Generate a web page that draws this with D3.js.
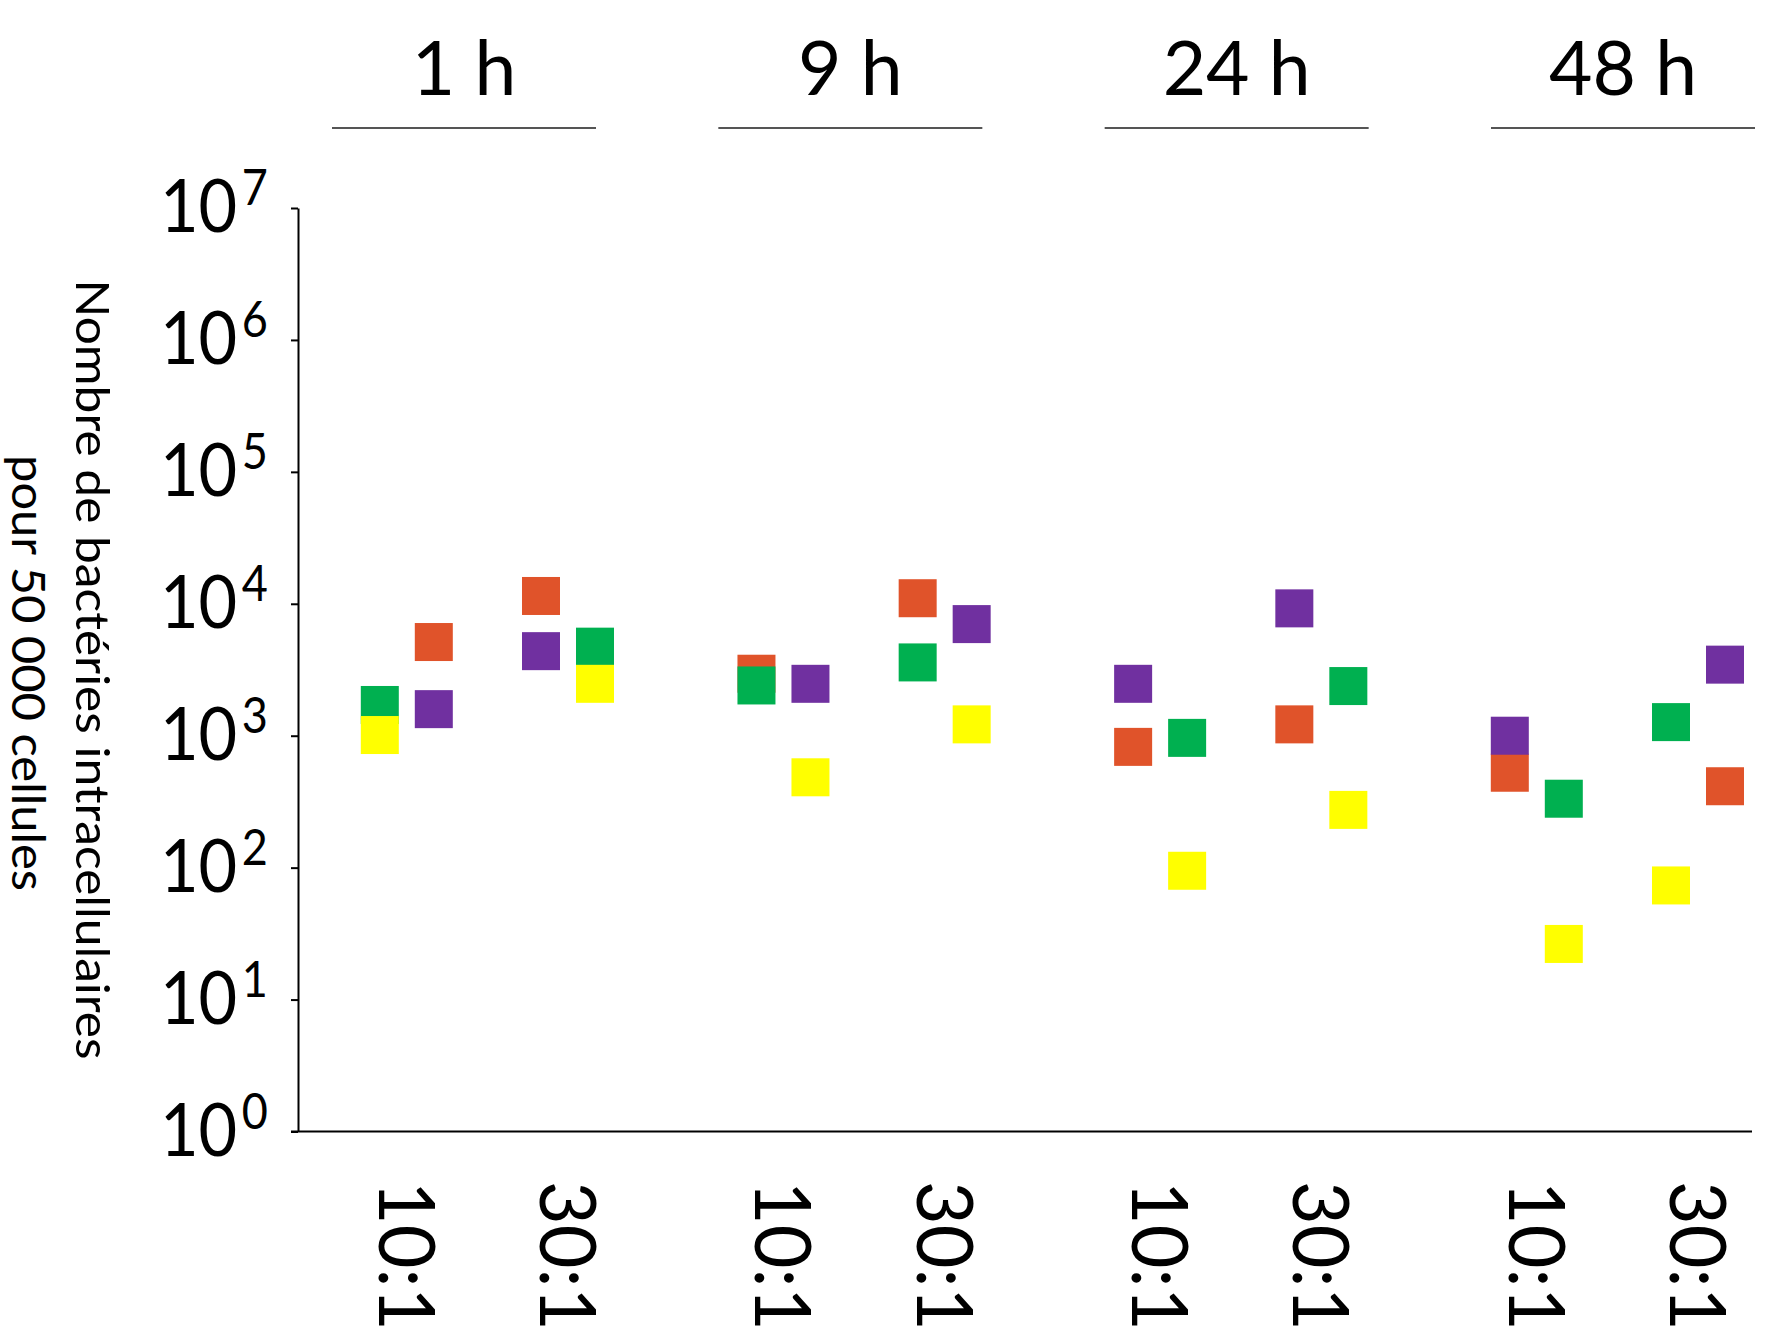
<!DOCTYPE html>
<html>
<head>
<meta charset="utf-8">
<script src="https://cdn.jsdelivr.net/npm/d3@7"></script>
<style>
  html, body { margin: 0; padding: 0; background: #ffffff; }
  svg { display: block; }
  text { font-family: Lato, "Open Sans", sans-serif; fill: #000; }
</style>
</head>
<body>
<svg id="chart" width="1767" height="1335"></svg>
<script>
// ---------------- DATA ----------------
const times = ["1 h", "9 h", "24 h", "48 h"];
const ratios = ["10:1", "30:1"];
// condition order: 1h-10:1, 1h-30:1, 9h-10:1, 9h-30:1, 24h-10:1, 24h-30:1, 48h-10:1, 48h-30:1
const orangeValues = [5130, 11460, 2950, 11020, 823, 1219, 524, 414];
const purpleValues = [1590, 4375, 2474, 7015, 2474, 9233, 1000, 3457];
const greenValues  = [1710, 4732, 2404, 3594, 963, 2379, 333, 1268];
const yellowValues = [1012, 2474, 484, 1219, 94.7, 274, 26.4, 73.3];
// sub-column (a = left, b = right) within each condition
const orangeColumn = ["b", "a", "a", "a", "a", "a", "a", "b"];
const purpleColumn = ["b", "a", "b", "b", "a", "a", "a", "b"];
const greenColumn  = ["a", "b", "a", "a", "b", "b", "b", "a"];
const yellowColumn = ["a", "b", "b", "b", "b", "b", "b", "a"];
const yTickValues = [1, 10, 100, 1000, 10000, 100000, 1000000, 10000000];
const yTickExponents = ["0", "1", "2", "3", "4", "5", "6", "7"];
const yTitleLines = ["Nombre de bactéries intracellulaires", "pour 50 000 cellules"];

// ---------------- BUILD ----------------
const conditions = [];
times.forEach(t => ratios.forEach(r => conditions.push({ time: t, ratio: r })));

const seriesList = [
  { name: "orange", color: "#E0532A", values: orangeValues, column: orangeColumn },
  { name: "purple", color: "#7030A0", values: purpleValues, column: purpleColumn },
  { name: "green",  color: "#00B050", values: greenValues,  column: greenColumn },
  { name: "yellow", color: "#FFFF00", values: yellowValues, column: yellowColumn }
];

const svg = d3.select("#chart");
svg.append("rect").attr("width", 1767).attr("height", 1335).attr("fill", "#fff");

const axisX = 298;
const y = d3.scaleLog().domain([1, 1e7]).range([1131.5, 208]);
const xTime = d3.scalePoint().domain(times).range([487.4, 1617.4]);
const xRatio = d3.scalePoint().domain(ratios).range([-80.6, 80.6]);
const xCol = d3.scalePoint().domain(["a", "b"]).range([-27, 27]);
const xHeader = d3.scalePoint().domain(times).range([464, 1623]);
const sq = 38;

// header groups
const hdr = svg.append("g");
times.forEach(t => {
  hdr.append("text")
    .attr("x", xHeader(t)).attr("y", 95)
    .attr("text-anchor", "middle")
    .attr("font-size", 75)
    .text(t);
  hdr.append("line")
    .attr("x1", xHeader(t) - 132).attr("x2", xHeader(t) + 132)
    .attr("y1", 128).attr("y2", 128)
    .attr("stroke", "#555").attr("stroke-width", 2);
});

// y axis
const yAxis = d3.axisLeft(y).tickValues(yTickValues).tickSize(7).tickSizeOuter(0).tickFormat("");
const gy = svg.append("g").attr("transform", `translate(${axisX},0)`).call(yAxis);
gy.select(".domain").attr("stroke", "#000").attr("stroke-width", 2);
gy.selectAll(".tick line").attr("stroke", "#000").attr("stroke-width", 2);

// tick labels 10^n
yTickValues.forEach((v, i) => {
  const t = svg.append("text")
    .attr("transform", `translate(160,${y(v) + 24}) scale(0.9,1)`)
    .attr("text-anchor", "start");
  t.append("tspan").attr("font-size", 74).text("10");
  t.append("tspan").attr("font-size", 50).attr("dx", 5).attr("dy", -27).text(yTickExponents[i]);
});

// x axis line
svg.append("line")
  .attr("x1", axisX - 7).attr("x2", 1752)
  .attr("y1", y(1)).attr("y2", y(1))
  .attr("stroke", "#000").attr("stroke-width", 2);

// x labels (rotated)
conditions.forEach(c => {
  const cx = xTime(c.time) + xRatio(c.ratio);
  svg.append("text")
    .attr("transform", `translate(${cx - 28},1181) rotate(90)`)
    .attr("text-anchor", "start")
    .attr("font-size", 78)
    .attr("textLength", 150)
    .attr("lengthAdjust", "spacingAndGlyphs")
    .text(c.ratio);
});

// y title
svg.append("text")
  .attr("transform", `translate(76,669.5) rotate(90)`)
  .attr("text-anchor", "middle")
  .attr("font-size", 47)
  .attr("textLength", 780)
  .attr("lengthAdjust", "spacingAndGlyphs")
  .text(yTitleLines[0]);
svg.append("text")
  .attr("transform", `translate(12,673) rotate(90)`)
  .attr("text-anchor", "middle")
  .attr("font-size", 47)
  .attr("textLength", 436)
  .attr("lengthAdjust", "spacingAndGlyphs")
  .text(yTitleLines[1]);

// squares
const marks = svg.append("g");
seriesList.forEach(s => {
  const pts = conditions.map((c, i) => ({ c, v: s.values[i], col: s.column[i] }));
  marks.append("g").attr("class", "series-" + s.name)
    .selectAll("rect").data(pts).join("rect")
    .attr("x", d => xTime(d.c.time) + xRatio(d.c.ratio) + xCol(d.col) - sq / 2)
    .attr("y", d => y(d.v) - sq / 2)
    .attr("width", sq).attr("height", sq)
    .attr("fill", s.color);
});
</script>
</body>
</html>
